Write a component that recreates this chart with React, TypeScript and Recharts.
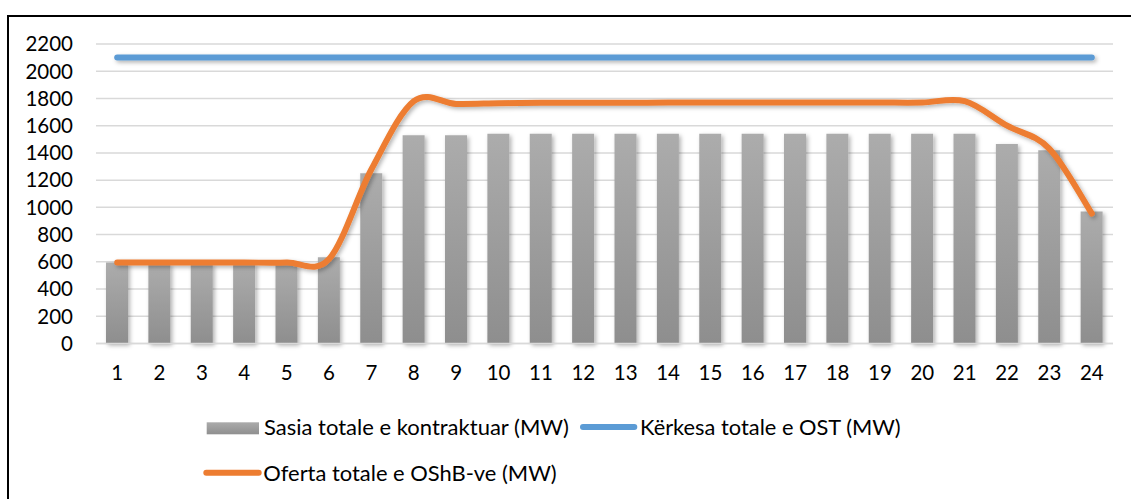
import React from 'react';
import { ComposedChart, Bar, Line, XAxis, YAxis, CartesianGrid, Legend } from 'recharts';

// ---- data ----
const hours = ['1', '2', '3', '4', '5', '6', '7', '8', '9', '10', '11', '12', '13', '14', '15', '16', '17', '18', '19', '20', '21', '22', '23', '24'];
const contractedMW = [595, 585, 585, 585, 585, 633, 1250, 1530, 1530, 1540, 1540, 1540, 1540, 1540, 1540, 1540, 1540, 1540, 1540, 1540, 1540, 1465, 1420, 970];
const demandOstMW = [2100, 2100, 2100, 2100, 2100, 2100, 2100, 2100, 2100, 2100, 2100, 2100, 2100, 2100, 2100, 2100, 2100, 2100, 2100, 2100, 2100, 2100, 2100, 2100];
const offerOshbMW = [595, 595, 595, 595, 595, 620, 1280, 1780, 1760, 1765, 1768, 1768, 1768, 1770, 1770, 1770, 1770, 1770, 1770, 1770, 1780, 1600, 1430, 955];
const yTicks = [0, 200, 400, 600, 800, 1000, 1200, 1400, 1600, 1800, 2000, 2200];

const nameContracted = 'Sasia totale e kontraktuar (MW)';
const nameDemand = 'Kërkesa totale e OST (MW)';
const nameOffer = 'Oferta totale e OShB-ve (MW)';

const data = hours.map((h, i) => ({
  hour: h,
  contracted: contractedMW[i],
  demand: demandOstMW[i],
  offer: offerOshbMW[i],
}));

// Excel-like smoothed line (Catmull-Rom -> Bezier)
const excelSmooth: any = (context: any) => {
  let xs: number[] = [];
  let ys: number[] = [];
  return {
    areaStart() {},
    areaEnd() {},
    lineStart() {
      xs = [];
      ys = [];
    },
    point(x: number, y: number) {
      xs.push(+x);
      ys.push(+y);
    },
    lineEnd() {
      const n = xs.length;
      if (!n) return;
      context.moveTo(xs[0], ys[0]);
      if (n === 1) {
        context.lineTo(xs[0], ys[0]);
        return;
      }
      for (let i = 0; i < n - 1; i++) {
        const x0 = i > 0 ? xs[i - 1] : xs[i];
        const y0 = i > 0 ? ys[i - 1] : ys[i];
        const x3 = i + 2 < n ? xs[i + 2] : xs[i + 1];
        const y3 = i + 2 < n ? ys[i + 2] : ys[i + 1];
        const c1x = xs[i] + (xs[i + 1] - x0) / 6;
        const c1y = ys[i] + (ys[i + 1] - y0) / 6;
        const c2x = xs[i + 1] - (x3 - xs[i]) / 6;
        const c2y = ys[i + 1] - (y3 - ys[i]) / 6;
        context.bezierCurveTo(c1x, c1y, c2x, c2y, xs[i + 1], ys[i + 1]);
      }
    },
  };
};

const FONT = 'Lato, "Open Sans", sans-serif';
const ORANGE = '#ED7D31';
const BLUE = '#5B9BD5';

const LegendText = ({ x, y, w, children }: { x: number; y: number; w: number; children: string }) => (
  <text x={x} y={y} fontFamily={FONT} fontSize={22} fill="#000" textLength={w} lengthAdjust="spacingAndGlyphs">
    {children}
  </text>
);

const LegendContent = () => (
  <svg width={1131} height={99} style={{ display: 'block', overflow: 'visible' }}>
    <defs>
      <linearGradient id="legGray" x1="0" y1="0" x2="0" y2="1">
        <stop offset="0%" stopColor="#ababab" />
        <stop offset="100%" stopColor="#8f8f8f" />
      </linearGradient>
    </defs>
    <rect x={206.7} y={22.3} width={52.3} height={12} fill="url(#legGray)" />
    <LegendText x={264} y={35} w={305}>{nameContracted}</LegendText>
    <line x1={583} y1={27} x2={634.3} y2={27} stroke={BLUE} strokeWidth={6} strokeLinecap="round" />
    <LegendText x={640} y={35} w={260.7}>{nameDemand}</LegendText>
    <line x1={206.3} y1={72.7} x2={258.7} y2={72.7} stroke={ORANGE} strokeWidth={6} strokeLinecap="round" />
    <LegendText x={263.3} y={80.5} w={293.4}>{nameOffer}</LegendText>
  </svg>
);

export default function App() {
  return (
    <div style={{ position: 'absolute', left: 0, top: 0, width: 1131, height: 499, overflow: 'hidden', background: '#fff' }}>
      <div
        style={{
          position: 'absolute',
          left: 7,
          top: 14.5,
          width: 1200,
          height: 600,
          border: '2px solid #000',
          boxSizing: 'border-box',
        }}
      />
      <div style={{ position: 'absolute', left: 0, top: 0 }}>
        <ComposedChart
          width={1131}
          height={499}
          data={data}
          margin={{ top: 44, right: 18, left: 0, bottom: 105.5 }}
        >
          <defs>
            <linearGradient id="barGray" x1="0" y1="0" x2="0" y2="1">
              <stop offset="0%" stopColor="#acacac" />
              <stop offset="100%" stopColor="#8e8e8e" />
            </linearGradient>
            <filter id="softShadow" filterUnits="userSpaceOnUse" x="0" y="0" width="1131" height="499">
              <feDropShadow dx="2" dy="2" stdDeviation="2" floodColor="#000" floodOpacity="0.3" />
            </filter>
          </defs>
          <CartesianGrid horizontal vertical={false} stroke="#d9d9d9" strokeWidth={1.5} />
          <XAxis
            dataKey="hour"
            height={50}
            axisLine={{ stroke: '#d9d9d9', strokeWidth: 1.5 }}
            tickLine={false}
            tickSize={0}
            tickMargin={22}
            tick={{ fontFamily: FONT, fontSize: 20.5, fill: '#000' }}
            interval={0}
          />
          <YAxis
            domain={[0, 2200]}
            ticks={yTicks}
            width={96}
            axisLine={false}
            tickLine={false}
            tickSize={0}
            tickMargin={23}
            tick={{ fontFamily: FONT, fontSize: 20.5, fill: '#000' }}
            interval={0}
          />
          <Bar
            dataKey="contracted"
            name={nameContracted}
            fill="url(#barGray)"
            barSize={22}
            filter="url(#softShadow)"
            isAnimationActive={false}
          />
          <Line
            dataKey="demand"
            name={nameDemand}
            type="linear"
            stroke={BLUE}
            strokeWidth={6}
            strokeLinecap="round"
            dot={false}
            activeDot={false}
            filter="url(#softShadow)"
            isAnimationActive={false}
          />
          <Line
            dataKey="offer"
            name={nameOffer}
            type={excelSmooth}
            stroke={ORANGE}
            strokeWidth={6}
            strokeLinecap="round"
            strokeLinejoin="round"
            dot={false}
            activeDot={false}
            filter="url(#softShadow)"
            isAnimationActive={false}
          />
          <Legend
            layout="horizontal"
            verticalAlign="middle"
            align="center"
            content={() => <LegendContent />}
            wrapperStyle={{ position: 'absolute', left: 0, top: 400, width: 1131, height: 99 }}
          />
        </ComposedChart>
      </div>
    </div>
  );
}
